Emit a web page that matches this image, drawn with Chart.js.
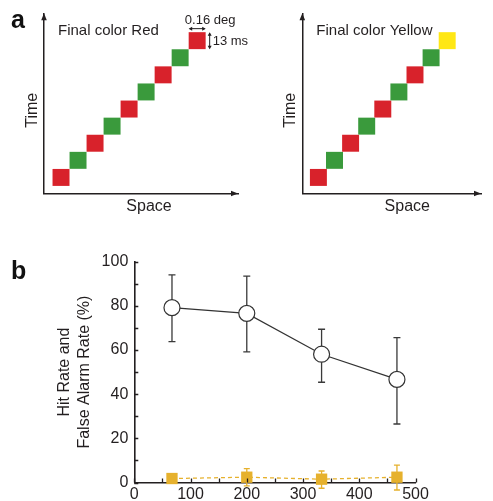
<!DOCTYPE html>
<html><head><meta charset="utf-8">
<script src="https://cdn.jsdelivr.net/npm/chart.js@4.4.1/dist/chart.umd.min.js"></script>
<style>
html,body{margin:0;padding:0;background:#fff;}
#wrap{position:relative;width:493px;height:501px;overflow:hidden;background:#fff;font-family:"Liberation Sans",Arial,sans-serif;}
.cv{position:absolute;}
.lab{position:absolute;font-weight:bold;font-size:25px;line-height:25px;color:#111;}
</style></head><body>
<div id="wrap">
<div class="cv" style="left:0;top:0;width:250px;height:230px"><canvas id="cRed"></canvas></div>
<div class="cv" style="left:250px;top:0;width:243px;height:230px"><canvas id="cYel"></canvas></div>
<div class="cv" style="left:0;top:240px;width:493px;height:261px"><canvas id="cB"></canvas></div>
<div class="lab" style="left:11px;top:7px">a</div>
<div class="lab" style="left:11px;top:258px">b</div>
</div>
<script>
// ---------- Panel a data ----------
const stepIndex = [0, 1, 2, 3, 4, 5, 6, 7, 8];      // space position (square units)
const timeIndex = [0, 1, 2, 3, 4, 5, 6, 7, 8];      // time frame
const seqRed    = ['red','green','red','green','red','green','red','green','red'];
const seqYellow = ['red','green','red','green','red','green','red','green','yellow'];
const panelTitles = ['Final color Red', 'Final color Yellow'];
const xAxisTitleA = 'Space';
const yAxisTitleA = 'Time';
const sizeLabel = '0.16 deg';
const durLabel = '13 ms';

// ---------- Panel b data ----------
const soaMs    = [67, 200, 333, 467];
const hitRate  = [79.2, 76.6, 58.1, 46.7];
const hitUpper = [94.0, 93.5, 69.4, 65.6];
const hitLower = [63.8, 59.2, 45.4, 26.5];
const faRate   = [1.8, 2.4, 1.5, 2.4];
const faUpper  = [3.6, 6.3, 5.2, 7.9];
const faLower  = [0.4, -1.5, -2.6, -3.4];
const xTickLabels = [0, 100, 200, 300, 400, 500];
const yTickLabels = [0, 20, 40, 60, 80, 100];
const xTickMarks  = [0, 50, 100, 150, 200, 250, 300, 350, 400, 450, 500];
const yTickMarks  = [0, 10, 20, 30, 40, 50, 60, 70, 80, 90, 100];
const yAxisTitleB = ['Hit Rate and', 'False Alarm Rate (%)'];

// ---------- styles ----------
const FAM = '"Liberation Sans", Arial, sans-serif';
const TXT = '#231f20';
const AX = '#231f20';
const COLORS = {red: '#d8222b', green: '#3a9a3c', yellow: '#ffe714'};
const YEL = '#e6b12d';

function arrowHead(ctx, x, y, dx, dy, len, half) {
  const px = -dy, py = dx;
  ctx.beginPath();
  ctx.moveTo(x, y);
  ctx.lineTo(x - dx * len + px * half, y - dy * len + py * half);
  ctx.lineTo(x - dx * len - px * half, y - dy * len - py * half);
  ctx.closePath();
  ctx.fill();
}

const seqDecor = {
  id: 'seqDecor',
  afterDraw(chart, args, opts) {
    const {ctx, chartArea: a, scales: {x, y}} = chart;
    ctx.save();
    ctx.fillStyle = AX;
    arrowHead(ctx, a.left, a.top, 0, -1, 7, 2.8);
    arrowHead(ctx, a.right, a.bottom, 1, 0, 7, 2.8);
    ctx.fillStyle = TXT;
    ctx.textBaseline = 'alphabetic';
    ctx.textAlign = 'left';
    ctx.font = '15px ' + FAM;
    ctx.fillText(opts.title, a.left + 14, a.top + 21.5);
    ctx.font = '16px ' + FAM;
    ctx.textAlign = 'center';
    ctx.fillText(xAxisTitleA, a.left + 105, a.bottom + 17);
    ctx.save();
    ctx.translate(a.left - 7.5, a.top + 97);
    ctx.rotate(-Math.PI / 2);
    ctx.fillText(yAxisTitleA, 0, 0);
    ctx.restore();
    if (opts.annotate) {
      const n = stepIndex.length - 1;
      const px = x.getPixelForValue(stepIndex[n]);
      const py = y.getPixelForValue(timeIndex[n]);
      const h = 8.5;
      ctx.strokeStyle = AX; ctx.fillStyle = AX; ctx.lineWidth = 1;
      const ay = py - h - 3.5;
      ctx.beginPath(); ctx.moveTo(px - h + 1, ay); ctx.lineTo(px + h - 1, ay); ctx.stroke();
      arrowHead(ctx, px - h, ay, -1, 0, 3.5, 2);
      arrowHead(ctx, px + h, ay, 1, 0, 3.5, 2);
      const ax = px + h + 4;
      ctx.beginPath(); ctx.moveTo(ax, py - h + 1); ctx.lineTo(ax, py + h - 1); ctx.stroke();
      arrowHead(ctx, ax, py - h, 0, -1, 3.5, 2);
      arrowHead(ctx, ax, py + h, 0, 1, 3.5, 2);
      ctx.fillStyle = TXT;
      ctx.font = '13px ' + FAM;
      ctx.textAlign = 'center';
      ctx.fillText(sizeLabel, px + 13, py - h - 8.5);
      ctx.textAlign = 'left';
      ctx.textBaseline = 'middle';
      ctx.fillText(durLabel, ax + 3, py + 0.5);
    }
    ctx.restore();
  }
};

function makeSeq(id, seq, title, yWidth, padRight, xMax, annotate) {
  return new Chart(document.getElementById(id), {
    type: 'scatter',
    data: {
      datasets: [{
        data: stepIndex.map((v, i) => ({x: v, y: timeIndex[i]})),
        pointStyle: 'rect',
        pointRadius: 12,
        pointBorderWidth: 0,
        pointBackgroundColor: seq.map(c => COLORS[c]),
        showLine: false,
        clip: false
      }]
    },
    options: {
      responsive: true, maintainAspectRatio: false, animation: false, events: [],
      layout: {padding: {top: 13.3, right: padRight, left: 0, bottom: 0}},
      plugins: {legend: {display: false}, tooltip: {enabled: false}, seqDecor: {title, annotate}},
      scales: {
        x: {type: 'linear', min: -1, max: xMax,
            ticks: {display: false}, grid: {display: false, drawTicks: false},
            border: {display: true, color: AX, width: 1.5},
            afterFit: s => { s.height = 36.5; }},
        y: {type: 'linear', min: -0.94, max: 9.6,
            ticks: {display: false}, grid: {display: false, drawTicks: false},
            border: {display: true, color: AX, width: 1.5},
            afterFit: s => { s.width = yWidth; }}
      }
    },
    plugins: [seqDecor]
  });
}

makeSeq('cRed', seqRed, panelTitles[0], 44, 11.7, 10.4, true);
makeSeq('cYel', seqYellow, panelTitles[1], 52.3, 1.3, 10.1, false);

// ---------- Panel b ----------
const errorBars = {
  id: 'errorBars',
  beforeDatasetsDraw(chart) {
    const {ctx, scales: {x, y}} = chart;
    const sets = [
      {up: hitUpper, lo: hitLower, color: '#3a3a3a', cap: 3.5},
      {up: faUpper, lo: faLower, color: YEL, cap: 3}
    ];
    ctx.save();
    ctx.lineWidth = 1.3;
    sets.forEach(s => {
      ctx.strokeStyle = s.color;
      soaMs.forEach((v, i) => {
        const px = x.getPixelForValue(v);
        const pu = y.getPixelForValue(s.up[i]);
        const pl = y.getPixelForValue(s.lo[i]);
        ctx.beginPath();
        ctx.moveTo(px, pu); ctx.lineTo(px, pl);
        ctx.moveTo(px - s.cap, pu); ctx.lineTo(px + s.cap, pu);
        ctx.moveTo(px - s.cap, pl); ctx.lineTo(px + s.cap, pl);
        ctx.stroke();
      });
    });
    ctx.restore();
  }
};

const inwardTicks = {
  id: 'inwardTicks',
  afterDraw(chart) {
    const {ctx, chartArea: a, scales: {x, y}} = chart;
    ctx.save();
    ctx.strokeStyle = AX;
    ctx.lineWidth = 1.3;
    ctx.beginPath();
    xTickMarks.forEach(v => {
      const px = Math.round(x.getPixelForValue(v)) + 0.5;
      ctx.moveTo(px, a.bottom); ctx.lineTo(px, a.bottom - 4);
    });
    yTickMarks.forEach(v => {
      const py = Math.round(y.getPixelForValue(v)) + 0.5;
      ctx.moveTo(a.left, py); ctx.lineTo(a.left + 4, py);
    });
    ctx.stroke();
    ctx.restore();
  }
};

new Chart(document.getElementById('cB'), {
  type: 'line',
  data: {
    datasets: [
      {
        label: 'Hit rate',
        data: soaMs.map((v, i) => ({x: v, y: hitRate[i]})),
        borderColor: '#333', borderWidth: 1.2,
        pointStyle: 'circle', pointRadius: 8,
        pointBackgroundColor: '#fff', pointBorderColor: '#333', pointBorderWidth: 1.2,
        clip: false
      },
      {
        label: 'False alarm rate',
        data: soaMs.map((v, i) => ({x: v, y: faRate[i]})),
        borderColor: YEL, borderWidth: 1.3, borderDash: [4, 3],
        pointStyle: 'rect', pointRadius: 8,
        pointBackgroundColor: YEL, pointBorderColor: YEL, pointBorderWidth: 0,
        clip: false
      }
    ]
  },
  options: {
    responsive: true, maintainAspectRatio: false, animation: false, events: [],
    layout: {padding: {top: 21.7, right: 77.5, left: 0, bottom: 0}},
    plugins: {legend: {display: false}, tooltip: {enabled: false}},
    scales: {
      x: {
        type: 'linear', min: 0, max: 500,
        afterBuildTicks: s => { s.ticks = xTickLabels.map(v => ({value: v})); },
        afterFit: s => { s.height = 18.5; },
        grid: {display: false, drawTicks: false},
        border: {display: true, color: AX, width: 1.6},
        ticks: {padding: 2, color: TXT, font: {size: 16, family: FAM}, maxRotation: 0, autoSkip: false}
      },
      y: {
        type: 'linear', min: 0, max: 100,
        afterBuildTicks: s => { s.ticks = yTickLabels.map(v => ({value: v})); },
        afterFit: s => { s.width = 134.3; },
        grid: {display: false, drawTicks: false},
        border: {display: true, color: AX, width: 1.6},
        ticks: {padding: 6, color: TXT, font: {size: 16, family: FAM}, autoSkip: false},
        title: {display: true, text: yAxisTitleB, color: TXT,
                font: {size: 16, family: FAM, lineHeight: 1.25},
                padding: {top: 55, bottom: 0}}
      }
    }
  },
  plugins: [errorBars, inwardTicks]
});
</script>
</body></html>
